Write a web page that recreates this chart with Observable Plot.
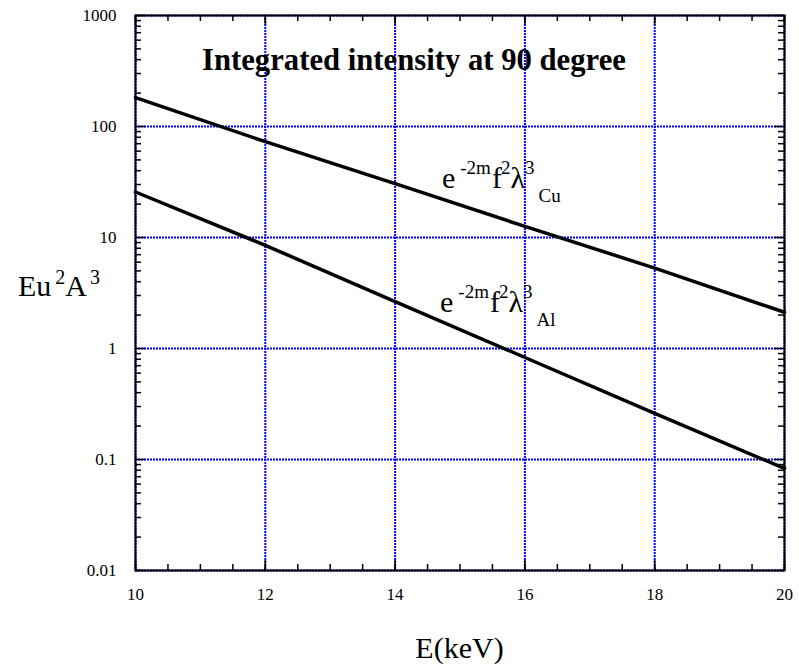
<!DOCTYPE html>
<html>
<head>
<meta charset="utf-8">
<script src="https://cdn.jsdelivr.net/npm/d3@7"></script>
<script src="https://cdn.jsdelivr.net/npm/@observablehq/plot@0.6"></script>
<style>
  html, body { margin: 0; padding: 0; background: #fff; }
  #chart { width: 799px; height: 666px; }
</style>
</head>
<body>
<div id="chart"></div>
<script>
// ---- data ----
const energies = [10, 12, 14, 16, 18, 20];          // keV
const cuValues = [182, 73, 30.6, 12.6, 5.3, 2.12];   // e^-2m f^2 λ^3 (Cu)
const alValues = [25.7, 8.5, 2.65, 0.83, 0.26, 0.083]; // e^-2m f^2 λ^3 (Al)
const xMajorTicks = [10, 12, 14, 16, 18, 20];
const yMajorTicks = [0.01, 0.1, 1, 10, 100, 1000];
const xMinorTicks = d3.range(10, 20.01, 0.5);
const yMinorTicks = yMajorTicks.slice(0, -1).flatMap(d => d3.range(2, 10).map(k => +(k * d).toPrecision(2)));
const titleText = "Integrated intensity at 90 degree";
const xLabel = "E(keV)";

const cuRows = energies.map((e, i) => ({E: e, v: cuValues[i]}));
const alRows = energies.map((e, i) => ({E: e, v: alValues[i]}));

const W = 799, H = 666;
const mL = 135, mR = 15, mT = 15, mB = 96;
const pw = W - mL - mR, ph = H - mT - mB;
const serif = "'Liberation Serif', 'Times New Roman', Times, serif";
const gridStyle = {stroke: "#0000ff", strokeOpacity: 1, strokeWidth: 2, strokeDasharray: "2,1"};

const plot = Plot.plot({
  width: W, height: H,
  marginLeft: mL, marginRight: mR, marginTop: mT, marginBottom: mB,
  style: {fontFamily: serif, background: "#fff", color: "#000"},
  x: {domain: [10, 20]},
  y: {type: "log", domain: [0.01, 1000]},
  marks: [
    Plot.gridX(xMajorTicks, gridStyle),
    Plot.gridY(yMajorTicks, gridStyle),
    Plot.line(cuRows, {x: "E", y: "v", stroke: "#000", strokeWidth: 3.5}),
    Plot.line(alRows, {x: "E", y: "v", stroke: "#000", strokeWidth: 3.5}),
    // inward ticks on all four sides
    Plot.tickX(xMinorTicks, {x: d => d, insetTop: ph - 6, stroke: "#000", strokeWidth: 1.5}),
    Plot.tickX(xMinorTicks, {x: d => d, insetBottom: ph - 6, stroke: "#000", strokeWidth: 1.5}),
    Plot.tickX(xMajorTicks, {x: d => d, insetTop: ph - 10, stroke: "#000", strokeWidth: 1.5}),
    Plot.tickX(xMajorTicks, {x: d => d, insetBottom: ph - 10, stroke: "#000", strokeWidth: 1.5}),
    Plot.tickY(yMinorTicks, {y: d => d, insetRight: pw - 6, stroke: "#000", strokeWidth: 1.5}),
    Plot.tickY(yMinorTicks, {y: d => d, insetLeft: pw - 6, stroke: "#000", strokeWidth: 1.5}),
    Plot.tickY(yMajorTicks, {y: d => d, insetRight: pw - 10, stroke: "#000", strokeWidth: 1.5}),
    Plot.tickY(yMajorTicks, {y: d => d, insetLeft: pw - 10, stroke: "#000", strokeWidth: 1.5}),
    Plot.frame({stroke: "#000", strokeWidth: 2}),
    Plot.axisX({ticks: xMajorTicks, tickSize: 0, tickPadding: 17, fontSize: 17, label: null, tickFormat: d => String(d)}),
    Plot.axisY({ticks: yMajorTicks, tickSize: 0, tickPadding: 19, fontSize: 17, label: null, tickFormat: d => String(d)})
  ]
});

document.getElementById("chart").appendChild(plot);

const svg = d3.select(plot);
const sx = plot.scale("x"), sy = plot.scale("y");

// title
svg.append("text")
  .attr("x", mL + 67).attr("y", 70)
  .attr("text-anchor", "start")
  .attr("font-family", serif).attr("font-size", 30.7).attr("font-weight", "bold")
  .attr("fill", "#000")
  .text(titleText);

// x axis label
svg.append("text")
  .attr("x", mL + pw / 2).attr("y", 658)
  .attr("text-anchor", "middle")
  .attr("font-family", serif).attr("font-size", 30).attr("fill", "#000")
  .text(xLabel);

// y axis label Eu^2A^3
{
  const t = svg.append("text")
    .attr("x", 18).attr("y", 296)
    .attr("text-anchor", "start")
    .attr("font-family", serif).attr("font-size", 30).attr("fill", "#000");
  t.append("tspan").text("Eu");
  t.append("tspan").attr("dx", 4).attr("dy", -12).attr("font-size", 20).text("2");
  t.append("tspan").attr("dy", 12).text("A");
  t.append("tspan").attr("dx", 3).attr("dy", -12).attr("font-size", 20).text("3");
}

// curve annotations
function formula(xv, yv, sub) {
  const t = svg.append("text")
    .attr("x", sx.apply(xv)).attr("y", sy.apply(yv))
    .attr("text-anchor", "start")
    .attr("font-family", serif).attr("font-size", 30).attr("fill", "#000");
  t.append("tspan").text("e");
  t.append("tspan").attr("dx", 5).attr("dy", -14).attr("font-size", 19).text("-2m");
  t.append("tspan").attr("dx", 1).attr("dy", 14).text("f");
  t.append("tspan").attr("dx", -1).attr("dy", -14).attr("font-size", 19).text("2");
  t.append("tspan").attr("dy", 14).text("λ");
  t.append("tspan").attr("dy", -14).attr("font-size", 19).text("3");
  t.append("tspan").attr("dx", 4).attr("dy", 28).attr("font-size", 19).text(sub);
}
formula(14.73, 27.6, "Cu");
formula(14.70, 2.11, "Al");
</script>
</body>
</html>
